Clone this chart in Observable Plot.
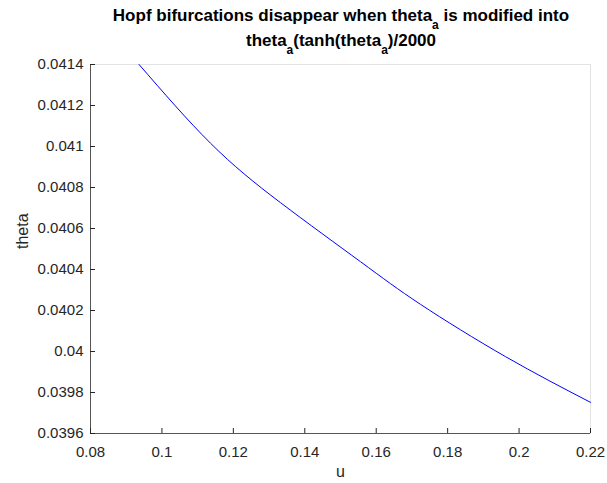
<!DOCTYPE html>
<html><head><meta charset="utf-8">
<script src="https://cdn.jsdelivr.net/npm/d3@7"></script>
<script src="https://cdn.jsdelivr.net/npm/@observablehq/plot@0.6"></script>
<style>
body{margin:0;background:#fff;font-family:"Liberation Sans",Arial,sans-serif;}
#wrap{width:607px;height:483px;position:relative;overflow:hidden;background:#fff;}
#title{position:relative;width:607px;height:54px;}
.tl{position:absolute;left:0;width:682px;text-align:center;font-weight:bold;font-size:17px;line-height:17px;color:#000;white-space:nowrap;}
.sb{position:relative;top:8px;font-size:12px;}
</style></head>
<body><div id="wrap"><div id="title"><div class="tl" style="top:7px">Hopf bifurcations disappear when theta<span class="sb">a</span> is modified into</div><div class="tl" style="top:32px">theta<span class="sb">a</span>(tanh(theta<span class="sb">a</span>)/2000</div></div><div id="chart"></div></div>
<script>
const uValues = [0.0936, 0.1136, 0.1332, 0.1556, 0.1724, 0.1962, 0.22];
const thetaValues = [0.0414, 0.041016, 0.040726, 0.040438, 0.04023, 0.039975, 0.039752];
const xTicks = [0.08, 0.1, 0.12, 0.14, 0.16, 0.18, 0.2, 0.22];
const yTicks = [0.0396, 0.0398, 0.04, 0.0402, 0.0404, 0.0406, 0.0408, 0.041, 0.0412, 0.0414];
const xDomain = [0.08, 0.22];
const yDomain = [0.0396, 0.0414];
const xLabel = "u";
const yLabel = "theta";

const data = uValues.map((u, i) => ({u, theta: thetaValues[i]}));
const fmt = d => String(+d.toFixed(4));

const chart = Plot.plot({
  width: 607, height: 429,
  marginTop: 10, marginBottom: 50, marginLeft: 90, marginRight: 17,
  style: {fontFamily: "Liberation Sans, Arial, sans-serif", fontSize: "15px", color: "#262626", background: "#fff"},
  x: {domain: xDomain, label: null},
  y: {domain: yDomain, label: null},
  marks: [
    Plot.frame({stroke: "#e3e3e3"}),
    Plot.ruleX([xDomain[0]], {stroke: "#555"}),
    Plot.ruleY([yDomain[0]], {stroke: "#555"}),
    Plot.axisX({ticks: xTicks, tickSize: -5, tickPadding: 18, tickFormat: fmt, label: null}),
    Plot.axisY({ticks: yTicks, tickSize: -5, tickPadding: 12, tickFormat: fmt, label: null}),
    Plot.line(data, {x: "u", y: "theta", stroke: "#0000ff", strokeWidth: 1, curve: "natural"}),
    Plot.text([xLabel], {text: d => d, frameAnchor: "bottom", dy: 38.5, lineAnchor: "middle", fontSize: 16}),
    Plot.text([yLabel], {text: d => d, frameAnchor: "left", dx: -67.5, rotate: -90, lineAnchor: "middle", fontSize: 16})
  ]
});
document.getElementById("chart").appendChild(chart);
</script>
</body></html>
